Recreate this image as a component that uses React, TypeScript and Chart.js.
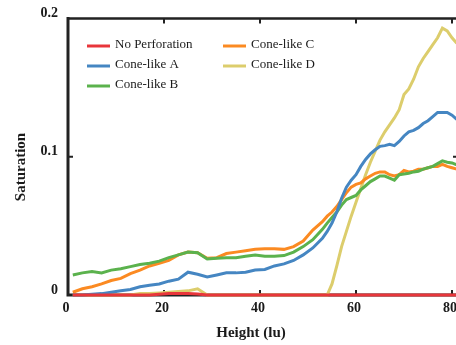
import React, { useEffect, useRef } from "react";
import { Chart, registerables } from "chart.js";

Chart.register(...registerables);

const heights = [1, 3, 5, 7, 9, 11, 13, 15, 17, 19, 21, 23, 25, 27, 29, 31, 33, 35, 37, 39, 41, 43, 45, 47, 49, 51, 53,
  54, 55, 56, 57, 58, 59, 60, 61, 62, 63, 64, 65, 66, 67, 68, 69, 70, 71, 72, 73, 74, 75, 76, 77, 78, 79, 80, 81];

const noPerforation = [0, 0, 0, 0, 0, 0, 0, 0, 0, 0.0005, 0.001, 0.001, 0.001, 0.0008, 0, 0, 0, 0, 0, 0, 0, 0, 0, 0, 0, 0, 0,
  0, 0, 0, 0, 0, 0, 0, 0, 0, 0, 0, 0, 0, 0, 0, 0, 0, 0, 0, 0, 0, 0, 0, 0, 0, 0, 0, 0];

const coneA = [0, 0, 0.0005, 0.001, 0.002, 0.003, 0.004, 0.006, 0.007, 0.008, 0.01, 0.0115, 0.0165, 0.015, 0.013, 0.0145, 0.016, 0.016, 0.0165, 0.018, 0.0185, 0.021, 0.0225, 0.025, 0.029, 0.034, 0.041,
  0.046, 0.052, 0.06, 0.07, 0.078, 0.083, 0.087, 0.093, 0.098, 0.102, 0.105, 0.1075, 0.108, 0.109, 0.108, 0.111, 0.115, 0.118, 0.119, 0.121, 0.124, 0.126, 0.129, 0.132, 0.132, 0.132, 0.13, 0.127];

const coneB = [0.0145, 0.016, 0.017, 0.016, 0.018, 0.019, 0.0205, 0.022, 0.023, 0.0245, 0.027, 0.029, 0.031, 0.0305, 0.026, 0.0265, 0.027, 0.027, 0.028, 0.029, 0.028, 0.028, 0.0285, 0.031, 0.035, 0.04, 0.0475,
  0.052, 0.056, 0.06, 0.065, 0.069, 0.0705, 0.072, 0.076, 0.079, 0.082, 0.084, 0.086, 0.086, 0.0845, 0.083, 0.087, 0.0875, 0.088, 0.089, 0.0895, 0.091, 0.092, 0.093, 0.095, 0.097, 0.096, 0.0955, 0.094];

const coneC = [0.002, 0.0045, 0.006, 0.008, 0.0105, 0.012, 0.0155, 0.018, 0.021, 0.023, 0.025, 0.029, 0.031, 0.0305, 0.0265, 0.027, 0.03, 0.031, 0.032, 0.033, 0.0335, 0.0335, 0.033, 0.035, 0.039, 0.047, 0.053,
  0.057, 0.06, 0.064, 0.069, 0.074, 0.078, 0.08, 0.081, 0.084, 0.086, 0.088, 0.089, 0.089, 0.087, 0.086, 0.087, 0.09, 0.089, 0.0895, 0.091, 0.091, 0.092, 0.093, 0.093, 0.0945, 0.093, 0.092, 0.091];

const coneD = [0, 0, 0, 0, 0, 0, 0, 0.001, 0.001, 0.0015, 0.002, 0.0025, 0.003, 0.0045, 0, 0, 0, 0, 0, 0, 0, 0, 0, 0, 0, 0, 0,
  0, 0.008, 0.021, 0.035, 0.046, 0.057, 0.067, 0.077, 0.087, 0.096, 0.104, 0.112, 0.118, 0.123, 0.128, 0.134, 0.145, 0.149, 0.156, 0.165, 0.171, 0.176, 0.181, 0.186, 0.193, 0.191, 0.186, 0.182];

const seriesNames = ["No Perforation", "Cone-like A", "Cone-like B", "Cone-like C", "Cone-like D"];
const seriesValues = [noPerforation, coneA, coneB, coneC, coneD];
const seriesColors = ["#e8363b", "#4586c2", "#5bb24d", "#fb8a22", "#dccd6c"];

const xTicks = [0, 20, 40, 60, 80];
const yTicks = [0, 0.1, 0.2];
const xTitle = "Height (lu)";
const yTitle = "Saturation";

const AXIS = "#222222";

const framePlugin = {
  id: "frame",
  beforeDatasetsDraw(chart: any) {
    const { ctx, chartArea } = chart;
    const { left, right, top, bottom } = chartArea;
    const xs = chart.scales.x;
    const ys = chart.scales.y;
    ctx.save();
    ctx.strokeStyle = AXIS;
    ctx.lineCap = "butt";
    ctx.lineWidth = 2.5;
    ctx.beginPath();
    ctx.moveTo(left, top);
    ctx.lineTo(right, top);
    ctx.lineTo(right, bottom);
    ctx.stroke();
    ctx.lineWidth = 3;
    ctx.beginPath();
    ctx.moveTo(left, top - 1.5);
    ctx.lineTo(left, bottom);
    ctx.lineTo(right, bottom);
    ctx.stroke();
    ctx.lineWidth = 2;
    ctx.beginPath();
    xTicks.forEach((v) => {
      if (v === 0) return;
      const px = xs.getPixelForValue(v);
      ctx.moveTo(px, top);
      ctx.lineTo(px, top + 5);
      ctx.moveTo(px, bottom);
      ctx.lineTo(px, bottom - 5);
    });
    yTicks.forEach((v) => {
      if (v === 0 || v === 0.2) return;
      const py = ys.getPixelForValue(v);
      ctx.moveTo(left, py);
      ctx.lineTo(left + 5, py);
      ctx.moveTo(right, py);
      ctx.lineTo(right - 5, py);
    });
    ctx.stroke();
    ctx.restore();
  },
  afterDraw(chart: any) {
    const { ctx } = chart;
    ctx.save();
    ctx.fillStyle = "#1a1a1a";
    ctx.font = 'bold 15px "Liberation Serif"';
    ctx.textAlign = "center";
    ctx.textBaseline = "alphabetic";
    ctx.fillText(xTitle, 251, 337);
    ctx.translate(25, 167);
    ctx.rotate(-Math.PI / 2);
    ctx.fillText(yTitle, 0, 0);
    ctx.restore();

    ctx.save();
    ctx.font = '13px "Liberation Serif"';
    ctx.textBaseline = "middle";
    ctx.textAlign = "left";
    const cols = [87, 223];
    seriesNames.forEach((name, i) => {
      const col = i < 3 ? 0 : 1;
      const row = i < 3 ? i : i - 3;
      const x = cols[col];
      const y = 46 + row * 20;
      ctx.strokeStyle = seriesColors[i];
      ctx.lineWidth = 3;
      ctx.beginPath();
      ctx.moveTo(x, y);
      ctx.lineTo(x + 23, y);
      ctx.stroke();
      ctx.fillStyle = "#1a1a1a";
      ctx.fillText(name, x + 28, y - 1);
    });
    ctx.restore();
  },
};

export default function App() {
  const ref = useRef<HTMLCanvasElement>(null);
  useEffect(() => {
    if (!ref.current) return;
    const chart = new Chart(ref.current, {
      type: "line",
      data: {
        datasets: seriesNames.map((name, i) => ({
          label: name,
          data: heights.map((h, j) => ({ x: h, y: seriesValues[i][j] })),
          borderColor: seriesColors[i],
          backgroundColor: seriesColors[i],
          borderWidth: 3,
          pointRadius: 0,
          tension: 0,
          fill: false,
          clip: { left: 0, top: 5, right: 0, bottom: 5 } as any,
        })),
      },
      options: {
        animation: false,
        responsive: false,
        devicePixelRatio: 1,
        layout: { padding: { left: 0, top: 16, right: 12, bottom: 0 } },
        plugins: { legend: { display: false }, tooltip: { enabled: false } },
        scales: {
          x: {
            type: "linear",
            min: 0,
            max: 81.25,
            grid: { display: false, drawTicks: false },
            border: { display: false },
            afterBuildTicks: (s: any) => {
              s.ticks = xTicks.map((v) => ({ value: v }));
            },
            afterFit: (s: any) => {
              s.height = 50;
            },
            ticks: {
              padding: 5,
              labelOffset: -2,
              maxRotation: 0,
              autoSkip: false,
              color: "#1a1a1a",
              font: { family: '"Liberation Serif"', size: 14, weight: "bold" },
            },
          },
          y: {
            type: "linear",
            min: 0,
            max: 0.2,
            grid: { display: false, drawTicks: false },
            border: { display: false },
            afterBuildTicks: (s: any) => {
              s.ticks = yTicks.map((v) => ({ value: v }));
            },
            afterFit: (s: any) => {
              s.width = 68;
            },
            ticks: {
              padding: 10,
              labelOffset: -5,
              autoSkip: false,
              color: "#1a1a1a",
              font: { family: '"Liberation Serif"', size: 14, weight: "bold" },
              callback: (v: any) => String(v),
            },
          },
        },
      },
      plugins: [framePlugin],
    });
    return () => chart.destroy();
  }, []);
  return (
    <div style={{ position: "fixed", left: 0, top: 0, width: 456, height: 345, overflow: "hidden", background: "#fff" }}>
      <canvas ref={ref} width={470} height={345} style={{ display: "block", width: 470, height: 345 }} />
    </div>
  );
}
